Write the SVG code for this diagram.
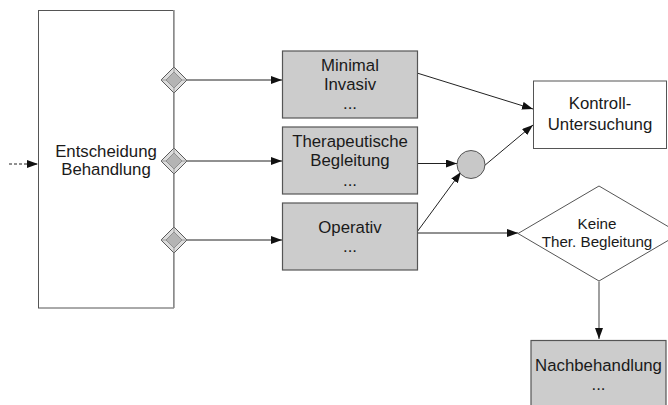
<svg xmlns="http://www.w3.org/2000/svg" width="668" height="405" viewBox="0 0 668 405">
  <style>
    text { font-family: "Liberation Sans", Arial, sans-serif; fill: #1a1a1a; text-anchor: middle; }
    .t { font-size: 16.8px; }
    .s { font-size: 15.2px; }
    .box { fill: #cccccc; stroke: #555555; stroke-width: 1.2; }
    .plain { fill: #ffffff; stroke: #555555; stroke-width: 1; }
    .edge { fill: none; stroke: #222222; stroke-width: 1; }
    .lane { stroke: #999999; stroke-width: 1.6; }
    .gw-o { fill: #dcdcdc; stroke: #5a5a5a; stroke-width: 1; }
    .gw-i { fill: #b4b4b4; stroke: #808080; stroke-width: 0.8; }
    .gw-b { stroke: #8a8a8a; stroke-width: 0.8; }
  </style>
  <defs>
    <marker id="arr" markerWidth="12" markerHeight="8" refX="11" refY="4" orient="auto" markerUnits="userSpaceOnUse">
      <path d="M0,0 L11,4 L0,8 Z" fill="#111111"/>
    </marker>
    <g id="gateway">
      <path class="gw-o" d="M0,-13 L13,0 L0,13 L-13,0 Z"/>
      <path class="gw-b" d="M0,-13 L0,-8 M13,0 L8,0 M0,13 L0,8 M-13,0 L-8,0"/>
      <path class="gw-i" d="M0,-8 L8,0 L0,8 L-8,0 Z"/>
    </g>
  </defs>

  <!-- Decision step with its lane boundary -->
  <g id="entscheidung">
    <rect class="plain" x="38.5" y="10.5" width="135" height="297.5"/>
    <line class="lane" x1="174" y1="10" x2="174" y2="308"/>
    <text class="t" x="106" y="157">Entscheidung</text>
    <text class="t" x="106" y="175">Behandlung</text>
  </g>

  <!-- Connectors -->
  <g id="connectors">
    <line class="edge" x1="9" y1="164" x2="38" y2="164" stroke-dasharray="3,2" marker-end="url(#arr)"/>
    <line class="edge" x1="187" y1="80" x2="282" y2="80" marker-end="url(#arr)"/>
    <line class="edge" x1="187" y1="161" x2="282" y2="161" marker-end="url(#arr)"/>
    <line class="edge" x1="187" y1="240" x2="282" y2="240" marker-end="url(#arr)"/>
    <line class="edge" x1="417" y1="73" x2="533" y2="109" marker-end="url(#arr)"/>
    <line class="edge" x1="417" y1="163.5" x2="457" y2="163.5" marker-end="url(#arr)"/>
    <line class="edge" x1="417" y1="232" x2="461" y2="172" marker-end="url(#arr)"/>
    <line class="edge" x1="484" y1="166" x2="533" y2="125" marker-end="url(#arr)"/>
    <line class="edge" x1="417" y1="233" x2="518" y2="233" marker-end="url(#arr)"/>
    <line x1="599" y1="281.5" x2="599" y2="339" stroke="#888888" stroke-width="1.6" marker-end="url(#arr)"/>
  </g>

  <!-- Gateways on the lane boundary -->
  <g id="gw1"><use href="#gateway" x="174" y="80"/></g>
  <g id="gw2"><use href="#gateway" x="174" y="161"/></g>
  <g id="gw3"><use href="#gateway" x="174" y="240"/></g>

  <g id="minimal">
    <rect class="box" x="282.5" y="51" width="135" height="67"/>
    <text class="t" x="350" y="71">Minimal</text>
    <text class="t" x="350" y="90">Invasiv</text>
    <text class="t" x="350" y="109">...</text>
  </g>

  <g id="therapeutisch">
    <rect class="box" x="282.5" y="127" width="135" height="67"/>
    <text class="t" x="350" y="146.5">Therapeutische</text>
    <text class="t" x="350" y="165.5">Begleitung</text>
    <text class="t" x="350" y="186">...</text>
  </g>

  <g id="operativ">
    <rect class="box" x="282.5" y="203" width="135" height="67"/>
    <text class="t" x="350" y="233">Operativ</text>
    <text class="t" x="350" y="252">...</text>
  </g>

  <g id="merge">
    <circle cx="471" cy="164.5" r="14" fill="#c8c8c8" stroke="#555555" stroke-width="1"/>
  </g>

  <g id="kontroll">
    <rect class="plain" x="533.5" y="81" width="133" height="67.5"/>
    <text class="t" x="600" y="108.5">Kontroll-</text>
    <text class="t" x="600" y="129.5">Untersuchung</text>
  </g>

  <g id="keine">
    <path class="plain" d="M599,186 L680,233.5 L599,281 L518,233.5 Z"/>
    <text class="s" x="597" y="229">Keine</text>
    <text class="s" x="597" y="246.5">Ther. Begleitung</text>
  </g>

  <g id="nachbehandlung">
    <rect class="box" x="531" y="340.5" width="135" height="70"/>
    <text class="t" x="598.5" y="371">Nachbehandlung</text>
    <text class="t" x="598.5" y="390">...</text>
  </g>
</svg>
